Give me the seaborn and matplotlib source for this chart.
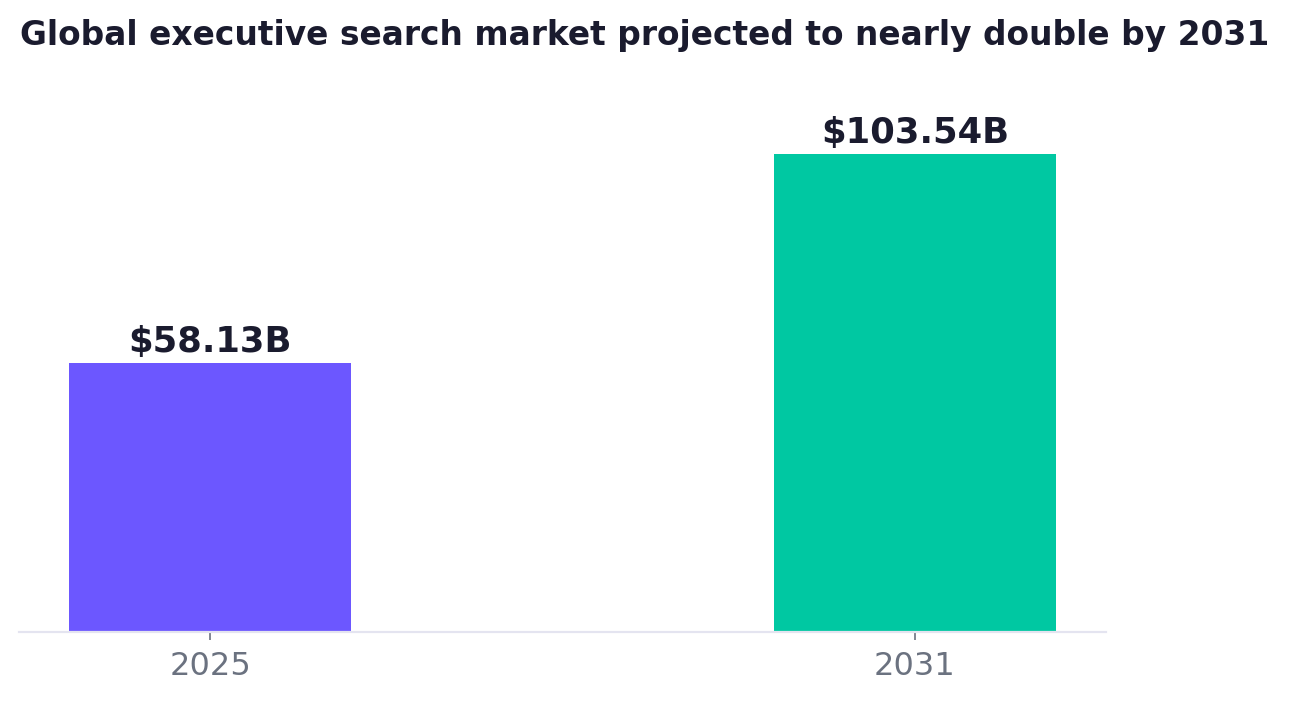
import matplotlib
matplotlib.use("Agg")
import matplotlib.pyplot as plt
import seaborn as sns
import pandas as pd

years = ["2025", "2031"]
values = [58.13, 103.54]
labels = ["$58.13B", "$103.54B"]
colors = ["#6C57FF", "#00C8A2"]

sns.set_theme(style="white")
plt.rcParams['font.family'] = ['DejaVu Sans']

df = pd.DataFrame({"year": years, "value": values})

fig = plt.figure(figsize=(12.92, 7.05), dpi=100)
ax = fig.add_axes([19/1292, 73/705, (1106-19)/1292, (632-82)/705])

sns.barplot(data=df, x="year", y="value", hue="year", palette=colors,
            width=0.4, saturation=1, legend=False, linewidth=0, ax=ax)

for cont, lab in zip(ax.containers, labels):
    ax.bar_label(cont, labels=[lab], padding=3, fontsize=25.5, fontweight="bold",
                 color="#1a1b2e")

ax.set_xlim(-0.271, 1.271)
ax.set_ylim(0, 103.54 * 1.15)
ax.set_xlabel("")
ax.set_ylabel("")
ax.set_yticks([])
for s in ["left", "right", "top"]:
    ax.spines[s].set_visible(False)
ax.spines["bottom"].set_color("#E4E4F0")
ax.spines["bottom"].set_linewidth(1.6)
ax.tick_params(axis="x", which="both", bottom=True, length=6, width=1.2,
               color="#6B7280", labelsize=23, labelcolor="#6B7280", pad=8)

fig.text(20/1292, 1 - 35/705, "Global executive search market projected to nearly double by 2031",
         ha="left", va="center", fontsize=23.7, fontweight="bold", color="#1a1b2e")

fig.savefig("out.png", dpi=100)
